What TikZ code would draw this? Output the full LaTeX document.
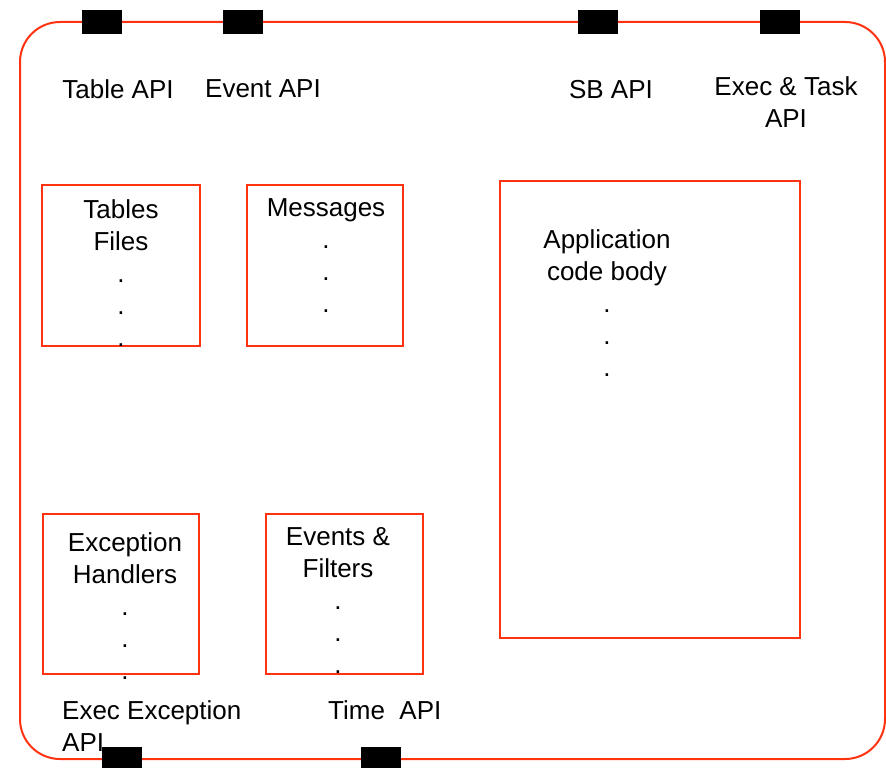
\documentclass[tikz,border=0pt]{standalone}
\usepackage{fontspec}
\setmainfont{Liberation Sans}
\usetikzlibrary{positioning}
\definecolor{cRed}{HTML}{FF3311}

\begin{document}
\begin{tikzpicture}[x=1pt,y=-1pt,
   txt/.style={font=\fontsize{26}{32}\selectfont,align=center,anchor=north,inner sep=0pt},
   part/.style={draw=cRed,line width=1.5pt,inner sep=0pt},
   port/.style={fill=black,minimum width=40pt,minimum height=24pt,inner sep=0pt}]
  \useasboundingbox (0,0) rectangle (886,768);
  % outer frame of the application
  \draw[cRed,line width=2pt,rounded corners=40pt] (20,22) rectangle (885,759);
  \node[port] (pTable) at (102,22) {};
  \node[port] (pEvent) at (243,22) {};
  \node[port] (pSB) at (598,22) {};
  \node[port] (pExec) at (780,22) {};
  \node[port] (pExcept) at (122,759) {};
  \node[port] (pTime) at (381,759) {};
  % API labels
  \node[txt] (lTable) at (118,79) {Table API};
  \node[txt] (lEvent) at (263,79) {Event API};
  \node[txt] (lSB) at (611,80) {SB API};
  \node[txt] (lExec) at (786,76) {Exec \& Task\\API};
  \node[txt,align=left,anchor=north west] (lExcept) at (62,700) {Exec Exception\\API};
  \node[txt,anchor=north west] (lTime) at (328,700) {Time\ \ API};
  % inner parts
  \node[part,minimum width=158pt,minimum height=161pt] (tables) at (121,265.5) {};
  \node[part,minimum width=156pt,minimum height=161pt] (msgs) at (325,265.5) {};
  \node[part,minimum width=300pt,minimum height=457pt] (app) at (650,409.5) {};
  \node[part,minimum width=156pt,minimum height=160pt] (handlers) at (121,594) {};
  \node[part,minimum width=157pt,minimum height=160pt] (filters) at (344.5,594) {};
  \node[txt] (tTables) at (121,199) {Tables\\Files\\.\\.\\.};
  \node[txt] (tMsgs) at (326,198) {Messages\\.\\.\\.};
  \node[txt] (tApp) at (607,229) {Application\\code body\\.\\.\\.};
  \node[txt] (tHandlers) at (125,532) {Exception\\Handlers\\.\\.\\.};
  \node[txt] (tFilters) at (338,527) {Events \&\\Filters\\.\\.\\.};
\end{tikzpicture}
\end{document}
